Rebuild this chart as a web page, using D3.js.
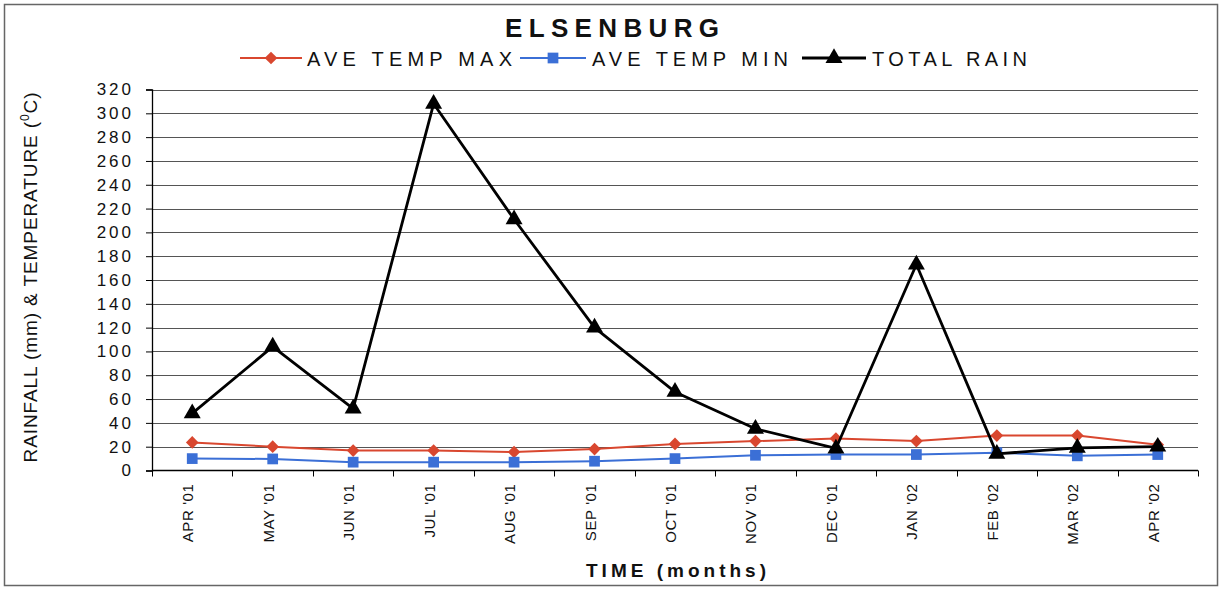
<!DOCTYPE html>
<html>
<head>
<meta charset="utf-8">
<script src="https://cdn.jsdelivr.net/npm/d3@7"></script>
<style>
  html, body { margin: 0; padding: 0; background: #fff; }
  svg { display: block; font-family: "Liberation Sans", Arial, sans-serif; }
</style>
</head>
<body>
<svg id="chart" width="1222" height="590"></svg>
<script>
// Monthly climate record, Elsenburg
const months = ["APR '01", "MAY '01", "JUN '01", "JUL '01", "AUG '01", "SEP '01", "OCT '01",
                "NOV '01", "DEC '01", "JAN '02", "FEB '02", "MAR '02", "APR '02"];
const tempMax = [23.6, 20, 16.7, 16.8, 15.5, 18, 22.3, 24.7, 26.8, 24.7, 29.3, 29.3, 21.6];
const tempMin = [10, 9.7, 7, 7, 7, 7.8, 10, 12.8, 13.4, 13.4, 15, 12.3, 13.4];
const totalRain = [48, 104, 52, 308, 211, 120, 66, 35, 18.5, 173, 14, 19, 20];
const yTicks = [0, 20, 40, 60, 80, 100, 120, 140, 160, 180, 200, 220, 240, 260, 280, 300, 320];

const svg = d3.select("#chart");
const W = 1222, H = 590;
const plot = { left: 152, right: 1198, top: 89.5, bottom: 470.5 };

// outer frame
svg.append("rect")
  .attr("x", 4.5).attr("y", 4.5).attr("width", W - 9).attr("height", H - 9)
  .attr("fill", "#fff").attr("stroke", "#666").attr("stroke-width", 1.5);

const x = d3.scaleBand().domain(months).range([plot.left, plot.right]);
const y = d3.scaleLinear().domain([0, 320]).range([plot.bottom, plot.top]);
const cx = d => x(d) + x.bandwidth() / 2;

// horizontal gridlines
svg.append("g")
  .selectAll("line").data(yTicks.slice(1)).join("line")
  .attr("x1", plot.left).attr("x2", plot.right)
  .attr("y1", d => Math.round(y(d)) + 0.5).attr("y2", d => Math.round(y(d)) + 0.5)
  .attr("stroke", "#555").attr("stroke-width", 1);

// y axis
const yAxis = svg.append("g")
  .attr("transform", `translate(${plot.left},0)`)
  .call(d3.axisLeft(y).tickValues(yTicks).tickSize(6).tickPadding(12));
yAxis.select(".domain").attr("stroke", "#000").attr("stroke-width", 1.3);
yAxis.selectAll(".tick line").attr("stroke", "#000");
yAxis.selectAll(".tick text")
  .attr("font-size", 17).attr("fill", "#111")
  .attr("letter-spacing", "3px")
  .attr("font-family", "Liberation Sans, Arial, sans-serif");

// x axis: ticks at category boundaries
const xAxisG = svg.append("g").attr("transform", `translate(0,${plot.bottom})`);
xAxisG.append("line")
  .attr("x1", plot.left).attr("x2", plot.right)
  .attr("stroke", "#000").attr("stroke-width", 1.3);
const edges = months.map(m => x(m)).concat([x(months[months.length - 1]) + x.bandwidth()]);
xAxisG.selectAll("line.tk").data(edges).join("line").attr("class", "tk")
  .attr("x1", d => Math.round(d) + 0.5).attr("x2", d => Math.round(d) + 0.5)
  .attr("y1", 0).attr("y2", 6).attr("stroke", "#000");
xAxisG.selectAll("text").data(months).join("text")
  .attr("transform", d => `translate(${cx(d) + 1},${13}) rotate(-90)`)
  .attr("text-anchor", "end")
  .attr("font-size", 15).attr("letter-spacing", "0.6px").attr("fill", "#111")
  .text(d => d);

// series
const diamond = {
  draw(ctx, size) {
    const r = Math.sqrt(size / 2);
    ctx.moveTo(0, -r); ctx.lineTo(r, 0); ctx.lineTo(0, r); ctx.lineTo(-r, 0); ctx.closePath();
  }
};
const series = [
  { name: "AVE TEMP MAX", values: tempMax, color: "#d9472f", symbol: diamond, size: 80, width: 2 },
  { name: "AVE TEMP MIN", values: tempMin, color: "#3b6fd6", symbol: d3.symbolSquare, size: 115, width: 2 },
  { name: "TOTAL RAIN", values: totalRain, color: "#000", symbol: d3.symbolTriangle, size: 125, width: 2.8 }
];

const line = d3.line().x((d, i) => cx(months[i])).y(d => y(d));

series.forEach(s => {
  const g = svg.append("g");
  g.append("path").datum(s.values)
    .attr("d", line).attr("fill", "none")
    .attr("stroke", s.color).attr("stroke-width", s.width)
    .attr("stroke-linejoin", "round");
  g.selectAll("path.m").data(s.values).join("path").attr("class", "m")
    .attr("d", d3.symbol().type(s.symbol).size(s.size))
    .attr("transform", (d, i) => `translate(${cx(months[i])},${y(d)})`)
    .attr("fill", s.color);
});

// title
svg.append("text")
  .attr("x", 505).attr("y", 37)
  .attr("font-size", 26).attr("font-weight", "bold")
  .attr("textLength", 214).attr("lengthAdjust", "spacing")
  .attr("fill", "#111")
  .text("ELSENBURG");

// legend
const legendItems = [
  { s: series[0], x0: 240, x1: 302, tx: 307, tw: 205 },
  { s: series[1], x0: 520, x1: 586, tx: 592, tw: 196 },
  { s: series[2], x0: 802, x1: 866, tx: 872, tw: 155 }
];
const lg = svg.append("g");
legendItems.forEach(it => {
  const ly = 58;
  lg.append("line")
    .attr("x1", it.x0).attr("x2", it.x1).attr("y1", ly).attr("y2", ly)
    .attr("stroke", it.s.color).attr("stroke-width", it.s.width);
  lg.append("path")
    .attr("d", d3.symbol().type(it.s.symbol).size(it.s.size)())
    .attr("transform", `translate(${(it.x0 + it.x1) / 2},${ly})`)
    .attr("fill", it.s.color);
  lg.append("text")
    .attr("x", it.tx).attr("y", ly + 7.5)
    .attr("font-size", 20)
    .attr("textLength", it.tw).attr("lengthAdjust", "spacing")
    .attr("fill", "#111")
    .text(it.s.name);
});

// y axis title
const yt = svg.append("text")
  .attr("transform", `translate(37,${277}) rotate(-90)`)
  .attr("text-anchor", "middle")
  .attr("font-size", 19).attr("letter-spacing", "0.9px").attr("fill", "#111");
yt.append("tspan").text("RAINFALL (mm) & TEMPERATURE (");
yt.append("tspan").attr("font-size", 12).attr("dy", -8).text("0");
yt.append("tspan").attr("dy", 8).text("C)");

// x axis title
svg.append("text")
  .attr("x", 586).attr("y", 577)
  .attr("font-size", 19).attr("font-weight", "bold")
  .attr("textLength", 180).attr("lengthAdjust", "spacing")
  .attr("fill", "#111")
  .text("TIME (months)");
</script>
</body>
</html>
